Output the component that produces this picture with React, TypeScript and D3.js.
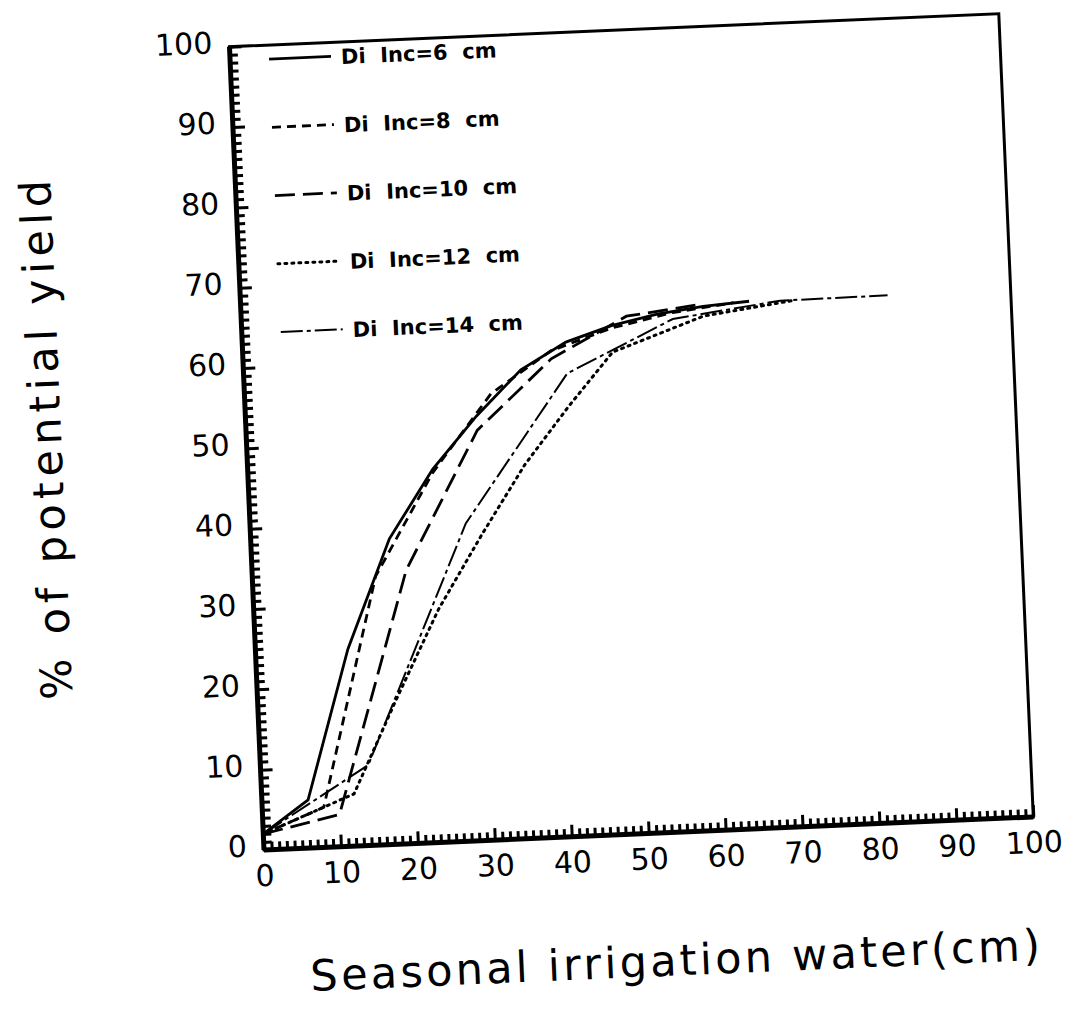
import React, { useEffect, useRef } from 'react';
import * as d3 from 'd3';

// axis ticks
const xTicks = [0, 10, 20, 30, 40, 50, 60, 70, 80, 90, 100];
const yTicks = [0, 10, 20, 30, 40, 50, 60, 70, 80, 90, 100];

// series (seasonal irrigation water cm, % of potential yield)
const inc6X = [0, 6, 12, 18, 24, 30, 36, 42, 48, 54, 60, 66];
const inc6Y = [2, 6, 24.5, 38, 46.4, 52.8, 58.3, 61.5, 63.3, 64.5, 65.2, 65.6];
const inc8X = [0, 8, 16, 24, 32, 40, 48, 56, 64];
const inc8Y = [2, 5, 33.4, 46, 55.5, 60.5, 63, 64.6, 65.5];
const inc10X = [0, 10, 20, 30, 40, 50, 60];
const inc10Y = [2, 4, 34, 51, 59.5, 64.4, 65.5];
const inc12X = [0, 12, 18, 24, 30, 36, 42, 48, 60, 72];
const inc12Y = [2, 6.5, 18, 29, 38, 46.5, 53.5, 60, 64, 65.5];
const inc14X = [0, 14, 28, 42, 56, 70, 84];
const inc14Y = [2, 10, 39.5, 57.6, 63.8, 65.5, 65.6];

const labels = ['Di  Inc=6  cm', 'Di  Inc=8  cm', 'Di  Inc=10  cm', 'Di  Inc=12  cm', 'Di  Inc=14  cm'];
const dashes = ['none', '9,6', '20,8', '2,5', '22,4,4,4'];

export default function App() {
  const svgRef = useRef<SVGSVGElement>(null);

  useEffect(() => {
    const svg = d3.select(svgRef.current);
    svg.selectAll('*').remove();

    const W = 770;
    const H = 804;
    const ox = 264;
    const oy = 850;
    const font = "'DejaVu Sans', sans-serif";

    // the scan is tilted a little, rotate the whole figure
    const root = svg.append('g').attr('transform', `rotate(-2.46, ${ox}, ${oy})`);
    const g = root.append('g').attr('transform', `translate(${ox},${oy - H})`);

    const x = d3.scaleLinear().domain([0, 100]).range([0, W]);
    const y = d3.scaleLinear().domain([0, 100]).range([H, 0]);

    // frame
    g.append('rect')
      .attr('width', W)
      .attr('height', H)
      .attr('fill', 'none')
      .attr('stroke', '#000')
      .attr('stroke-width', 3);
    g.append('line').attr('x1', 0).attr('x2', 0).attr('y1', 0).attr('y2', H)
      .attr('stroke', '#000').attr('stroke-width', 5);
    g.append('line').attr('x1', 0).attr('x2', W).attr('y1', H).attr('y2', H)
      .attr('stroke', '#000').attr('stroke-width', 5);

    // minor + major ticks pointing inward
    const minor = d3.range(0, 101, 1);
    g.append('g')
      .attr('transform', `translate(0,${H})`)
      .call(d3.axisTop(x).tickValues(minor).tickSize(8).tickFormat(() => ''))
      .call(s => s.select('.domain').remove())
      .call(s => s.selectAll('line').attr('stroke', '#000').attr('stroke-width', 3)
        .filter((d: any) => d % 10 === 0).attr('y2', -12));
    g.append('g')
      .call(d3.axisRight(y).tickValues(minor).tickSize(8).tickFormat(() => ''))
      .call(s => s.select('.domain').remove())
      .call(s => s.selectAll('line').attr('stroke', '#000').attr('stroke-width', 3)
        .filter((d: any) => d % 10 === 0).attr('x2', 12));

    // tick labels
    g.append('g')
      .selectAll('text')
      .data(xTicks)
      .join('text')
      .attr('x', d => x(d))
      .attr('y', H + 36)
      .attr('text-anchor', 'middle')
      .attr('font-family', font)
      .attr('font-size', 30)
      .text(d => d);
    g.append('g')
      .selectAll('text')
      .data(yTicks)
      .join('text')
      .attr('x', -17)
      .attr('y', d => y(d) + 6)
      .attr('text-anchor', 'end')
      .attr('font-family', font)
      .attr('font-size', 30)
      .text(d => d);

    // axis titles
    g.append('text')
      .attr('transform', `translate(-185,${H - 419}) rotate(-90)`)
      .attr('text-anchor', 'middle')
      .attr('font-family', font)
      .attr('font-size', 43)
      .attr('textLength', 520)
      .attr('lengthAdjust', 'spacing')
      .text('% of potential yield');
    g.append('text')
      .attr('x', 406)
      .attr('y', H + 143)
      .attr('text-anchor', 'middle')
      .attr('font-family', font)
      .attr('font-size', 43)
      .attr('textLength', 730)
      .attr('lengthAdjust', 'spacing')
      .text('Seasonal irrigation water(cm)');

    // curves
    const series = [
      inc6X.map((v, i) => [v, inc6Y[i]]),
      inc8X.map((v, i) => [v, inc8Y[i]]),
      inc10X.map((v, i) => [v, inc10Y[i]]),
      inc12X.map((v, i) => [v, inc12Y[i]]),
      inc14X.map((v, i) => [v, inc14Y[i]]),
    ];
    const widths = [2.8, 2.8, 2.8, 3, 2];
    const line = d3.line<number[]>().x(d => x(d[0])).y(d => y(d[1]));
    series.forEach((s, i) => {
      g.append('path')
        .datum(s)
        .attr('fill', 'none')
        .attr('stroke', '#000')
        .attr('stroke-width', widths[i])
        .attr('stroke-dasharray', dashes[i])
        .attr('stroke-linecap', i === 3 ? 'round' : 'butt')
        .attr('d', line);
    });

    // legend
    const leg = g.append('g').attr('transform', 'translate(39,14)');
    labels.forEach((lab, i) => {
      const ly = i * 68.3;
      leg.append('line')
        .attr('x1', 0).attr('x2', 62).attr('y1', ly).attr('y2', ly)
        .attr('stroke', '#000')
        .attr('stroke-width', widths[i])
        .attr('stroke-dasharray', dashes[i])
        .attr('stroke-linecap', i === 3 ? 'round' : 'butt');
      leg.append('text')
        .attr('x', 72)
        .attr('y', ly + 8)
        .attr('font-family', font)
        .attr('font-size', 21)
        .attr('font-weight', 'bold')
        .attr('xml:space', 'preserve')
        .style('white-space', 'pre')
        .text(lab);
    });
  }, []);

  return (
    <div style={{ position: 'absolute', left: 0, top: 0 }}>
      <svg ref={svgRef} width={1075} height={1012} style={{ display: 'block', background: '#fff' }} />
    </div>
  );
}
